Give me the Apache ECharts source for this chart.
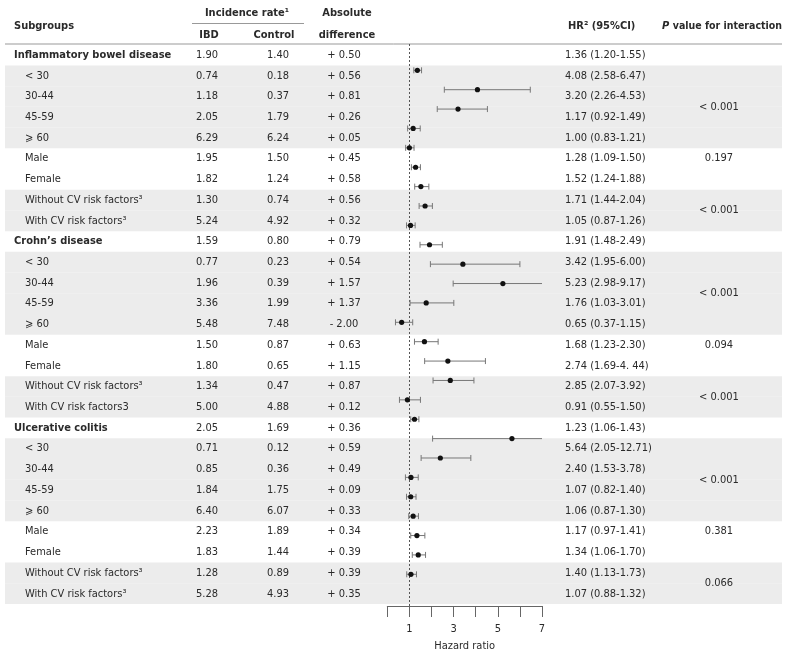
<!DOCTYPE html>
<html><head><meta charset="utf-8">
<script src="https://cdn.jsdelivr.net/npm/echarts@6/dist/echarts.min.js"></script>
<style>html,body{margin:0;padding:0;background:#fff}#c{width:787px;height:661px}</style>
</head><body><div id="c"></div>
<script>
const subgroups = ['Inflammatory bowel disease','< 30','30-44','45-59','⩾ 60','Male','Female','Without CV risk factors³','With CV risk factors³',
  'Crohn’s disease','< 30','30-44','45-59','⩾ 60','Male','Female','Without CV risk factors³','With CV risk factors3',
  'Ulcerative colitis','< 30','30-44','45-59','⩾ 60','Male','Female','Without CV risk factors³','With CV risk factors³'];
const sectionRows = [0, 9, 18];
const shadedRows = [1,2,3,4,7,8,10,11,12,13,16,17,19,20,21,22,25,26];
const ibdRate = ['1.90','0.74','1.18','2.05','6.29','1.95','1.82','1.30','5.24','1.59','0.77','1.96','3.36','5.48','1.50','1.80','1.34','5.00','2.05','0.71','0.85','1.84','6.40','2.23','1.83','1.28','5.28'];
const controlRate = ['1.40','0.18','0.37','1.79','6.24','1.50','1.24','0.74','4.92','0.80','0.23','0.39','1.99','7.48','0.87','0.65','0.47','4.88','1.69','0.12','0.36','1.75','6.07','1.89','1.44','0.89','4.93'];
const absDiff = ['+ 0.50','+ 0.56','+ 0.81','+ 0.26','+ 0.05','+ 0.45','+ 0.58','+ 0.56','+ 0.32','+ 0.79','+ 0.54','+ 1.57','+ 1.37','- 2.00','+ 0.63','+ 1.15','+ 0.87','+ 0.12','+ 0.36','+ 0.59','+ 0.49','+ 0.09','+ 0.33','+ 0.34','+ 0.39','+ 0.39','+ 0.35'];
const hr = [1.36,4.08,3.20,1.17,1.00,1.28,1.52,1.71,1.05,1.91,3.42,5.23,1.76,0.65,1.68,2.74,2.85,0.91,1.23,5.64,2.40,1.07,1.06,1.17,1.34,1.40,1.07];
const ciLow = [1.20,2.58,2.26,0.92,0.83,1.09,1.24,1.44,0.87,1.48,1.95,2.98,1.03,0.37,1.23,1.69,2.07,0.55,1.06,2.05,1.53,0.82,0.87,0.97,1.06,1.13,0.88];
const ciHigh = [1.55,6.47,4.53,1.49,1.21,1.50,1.88,2.04,1.26,2.49,6.00,9.17,3.01,1.15,2.30,4.44,3.92,1.50,1.43,12.71,3.78,1.40,1.30,1.41,1.70,1.73,1.32];
const hrLabels = ['1.36 (1.20-1.55)','4.08 (2.58-6.47)','3.20 (2.26-4.53)','1.17 (0.92-1.49)','1.00 (0.83-1.21)','1.28 (1.09-1.50)','1.52 (1.24-1.88)','1.71 (1.44-2.04)','1.05 (0.87-1.26)',
  '1.91 (1.48-2.49)','3.42 (1.95-6.00)','5.23 (2.98-9.17)','1.76 (1.03-3.01)','0.65 (0.37-1.15)','1.68 (1.23-2.30)','2.74 (1.69-4. 44)','2.85 (2.07-3.92)','0.91 (0.55-1.50)',
  '1.23 (1.06-1.43)','5.64 (2.05-12.71)','2.40 (1.53-3.78)','1.07 (0.82-1.40)','1.06 (0.87-1.30)','1.17 (0.97-1.41)','1.34 (1.06-1.70)','1.40 (1.13-1.73)','1.07 (0.88-1.32)'];
const pValues = ['< 0.001','0.197','< 0.001','< 0.001','0.094','< 0.001','< 0.001','0.381','0.066'];
const pRows = [2.5, 5, 7.5, 11.5, 14, 16.5, 20.5, 23, 25.5];
const hrTickLabels = ['', '1', '', '3', '', '5', '', '7'];

const FONT = '"DejaVu Sans Condensed", "DejaVu Sans", sans-serif';
const FS = 11;
const TXT = '#2a2a2a';
const N = subgroups.length;
const rowCats = subgroups.map((s, i) => 'r' + i);

function textColumn(values, colX, align, boldFn, xFn) {
  return {
    type: 'custom', xAxisIndex: 0, yAxisIndex: 0, z: 10, silent: true,
    data: values.map((v, i) => [i, v]),
    renderItem: function (params, api) {
      const i = api.value(0);
      const t = values[i];
      const bold = boldFn ? boldFn(i) : false;
      const x = xFn ? xFn(i) : colX;
      const p = api.coord([x, rowCats[i]]);
      return { type: 'text', x: p[0], y: p[1],
        style: { text: t, fill: TXT, fontFamily: FONT, fontSize: FS, fontWeight: bold ? 'bold' : 'normal', align: align, verticalAlign: 'middle' } };
    }
  };
}

const isSection = i => sectionRows.indexOf(i) >= 0;

const option = {
  animation: false,
  grid: [
    { left: 0, right: 0, top: 44.7, bottom: 57, containLabel: false },
    { left: 387.3, right: 245, top: 44, bottom: 55, containLabel: false }
  ],
  xAxis: [
    { gridIndex: 0, type: 'value', min: 0, max: 787, show: false },
    { gridIndex: 1, type: 'value', min: 0, max: 7, interval: 1, position: 'bottom', z: 30,
      axisLine: { show: true, onZero: false, lineStyle: { color: '#666', width: 1 } },
      axisTick: { show: true, inside: false, length: 11, lineStyle: { color: '#666', width: 1 } },
      splitLine: { show: false },
      axisLabel: { margin: 18, color: TXT, fontFamily: FONT, fontSize: FS, formatter: v => hrTickLabels[v] || '' },
      name: 'Hazard ratio', nameLocation: 'middle', nameGap: 35,
      nameTextStyle: { color: TXT, fontFamily: FONT, fontSize: FS } }
  ],
  yAxis: [
    { gridIndex: 0, type: 'category', data: rowCats, inverse: true, show: false },
    { gridIndex: 1, type: 'value', inverse: true, min: -1.357, max: 27.635, show: false }
  ],
  series: [
    { type: 'bar', xAxisIndex: 0, yAxisIndex: 0, stack: 'band', silent: true, barWidth: '100%', z: 1,
      itemStyle: { color: 'rgba(0,0,0,0)' },
      data: rowCats.map((c, i) => shadedRows.indexOf(i) >= 0 ? 5 : '-') },
    { type: 'bar', xAxisIndex: 0, yAxisIndex: 0, stack: 'band', silent: true, barWidth: '100%', z: 1,
      itemStyle: { color: '#ececec' },
      data: rowCats.map((c, i) => shadedRows.indexOf(i) >= 0 ? 777 : '-') },
    textColumn(subgroups, 25, 'left', isSection, i => isSection(i) ? 14 : 25),
    textColumn(ibdRate, 207, 'center'),
    textColumn(controlRate, 278, 'center'),
    textColumn(absDiff, 344, 'center'),
    textColumn(hrLabels, 565, 'left'),
    { type: 'custom', xAxisIndex: 0, yAxisIndex: 0, z: 10, silent: true,
      data: pValues.map((p, k) => [k, p]),
      renderItem: function (params, api) {
        const k = api.value(0);
        const r = pRows[k];
        const lo = Math.floor(r), frac = r - lo;
        const a = api.coord([719, rowCats[lo]]);
        const b = api.coord([719, rowCats[Math.min(lo + 1, N - 1)]]);
        const y = a[1] + (b[1] - a[1]) * frac;
        return { type: 'text', x: a[0], y: y,
          style: { text: pValues[k], fill: TXT, fontFamily: FONT, fontSize: FS, align: 'center', verticalAlign: 'middle' } };
      } },
    { type: 'custom', xAxisIndex: 1, yAxisIndex: 1, z: 20, silent: true, clip: false,
      data: hr.map((h, i) => [h, ciLow[i], ciHigh[i], i]),
      renderItem: function (params, api) {
        const h = api.value(0), l = api.value(1), u = api.value(2), i = api.value(3);
        const cut = u > 7;
        const pl = api.coord([l, i]);
        const pu = api.coord([cut ? 7 : u, i]);
        const pc = api.coord([h, i]);
        const y = pc[1];
        const ln = { stroke: '#777', lineWidth: 1 };
        const ch = [
          { type: 'line', shape: { x1: pl[0], y1: y, x2: pu[0], y2: y }, style: ln },
          { type: 'line', shape: { x1: pl[0], y1: y - 3, x2: pl[0], y2: y + 3 }, style: ln }
        ];
        if (!cut) ch.push({ type: 'line', shape: { x1: pu[0], y1: y - 3, x2: pu[0], y2: y + 3 }, style: ln });
        ch.push({ type: 'circle', shape: { cx: pc[0], cy: y, r: 2.6 }, style: { fill: '#111' } });
        return { type: 'group', children: ch };
      } },
    { type: 'scatter', xAxisIndex: 1, yAxisIndex: 1, data: [], silent: true,
      markLine: { symbol: 'none', silent: true, label: { show: false },
        lineStyle: { color: '#555', type: [2, 2], width: 1 },
        data: [{ xAxis: 1 }] } }
  ],
  graphic: [
    { type: 'text', x: 14, y: 26, style: { text: 'Subgroups', fill: TXT, fontFamily: FONT, fontSize: FS, fontWeight: 'bold', align: 'left', verticalAlign: 'middle' } },
    { type: 'text', x: 247, y: 13, style: { text: 'Incidence rate¹', fill: TXT, fontFamily: FONT, fontSize: FS, fontWeight: 'bold', align: 'center', verticalAlign: 'middle' } },
    { type: 'line', shape: { x1: 192, y1: 23.5, x2: 304, y2: 23.5 }, style: { stroke: '#999', lineWidth: 1 } },
    { type: 'text', x: 209, y: 35, style: { text: 'IBD', fill: TXT, fontFamily: FONT, fontSize: FS, fontWeight: 'bold', align: 'center', verticalAlign: 'middle' } },
    { type: 'text', x: 274, y: 35, style: { text: 'Control', fill: TXT, fontFamily: FONT, fontSize: FS, fontWeight: 'bold', align: 'center', verticalAlign: 'middle' } },
    { type: 'text', x: 347, y: 13, style: { text: 'Absolute', fill: TXT, fontFamily: FONT, fontSize: FS, fontWeight: 'bold', align: 'center', verticalAlign: 'middle' } },
    { type: 'text', x: 347, y: 35, style: { text: 'difference', fill: TXT, fontFamily: FONT, fontSize: FS, fontWeight: 'bold', align: 'center', verticalAlign: 'middle' } },
    { type: 'text', x: 568, y: 26, style: { text: 'HR² (95%CI)', fill: TXT, fontFamily: FONT, fontSize: FS, fontWeight: 'bold', align: 'left', verticalAlign: 'middle' } },
    { type: 'text', x: 722, y: 26, style: { text: '{i|P} {b|value for interaction}', fill: TXT, fontFamily: FONT, fontSize: FS, fontWeight: 'bold', align: 'center', verticalAlign: 'middle',
        rich: { i: { fontStyle: 'italic', fontWeight: 'bold', fontFamily: FONT, fontSize: FS, fill: TXT }, b: { fontWeight: 'bold', fontFamily: FONT, fontSize: 10.5, fill: TXT } } } },
    { type: 'line', shape: { x1: 5, y1: 44, x2: 782, y2: 44 }, style: { stroke: '#999', lineWidth: 1 } }
  ]
};
const chart = echarts.init(document.getElementById('c'), null, { renderer: 'canvas' });
chart.setOption(option);
</script></body></html>
